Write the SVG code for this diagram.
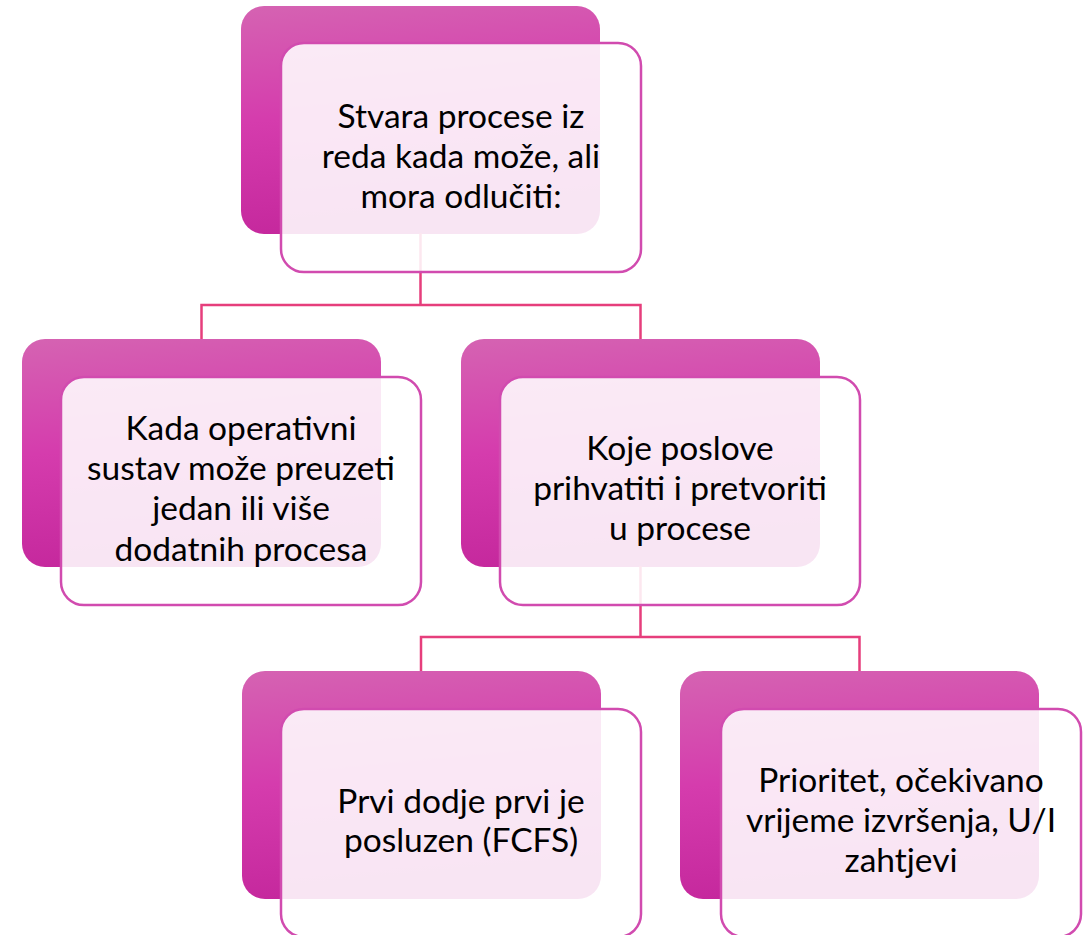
<svg xmlns="http://www.w3.org/2000/svg" width="1086" height="935" viewBox="0 0 1086 935">
<defs>
<linearGradient id="g" x1="0" y1="0" x2="0.15" y2="1">
<stop offset="0" stop-color="#D563B2"/>
<stop offset="0.5" stop-color="#D53CAD"/>
<stop offset="1" stop-color="#C5289D"/>
</linearGradient>
<style>
.back{fill:url(#g);}
.front{fill:#FFFFFF;fill-opacity:0.88;stroke:#D14BAF;stroke-width:2.5;}
.conn{fill:none;stroke:#E63E7C;stroke-width:2.5;}
text{font-family:Lato,"Liberation Sans",sans-serif;font-size:33.5px;fill:#000;text-anchor:middle;}
</style>
</defs>
<rect width="1086" height="935" fill="#FFFFFF"/>
<g id="backs">
<rect class="back" x="241" y="6" width="359" height="228" rx="23"/>
<rect class="back" x="22" y="339" width="359" height="228" rx="23"/>
<rect class="back" x="461" y="339" width="359" height="228" rx="23"/>
<rect class="back" x="242" y="671" width="359" height="228" rx="23"/>
<rect class="back" x="680" y="671" width="359" height="228" rx="23"/>
</g>
<g id="connectors">
<path class="conn" d="M420.5,233 V305 M201.5,339 V305 H640.5 V339"/>
<path class="conn" d="M640.5,566 V637 M421,671 V637 H859.5 V671"/>
</g>
<g id="node-top">
<rect class="front" x="281" y="43" width="360" height="229" rx="23"/>
<text x="461" y="128">Stvara procese iz</text>
<text x="461" y="168">reda kada može, ali</text>
<text x="461" y="208">mora odlučiti:</text>
</g>
<g id="node-left">
<rect class="front" x="61" y="377" width="360" height="228" rx="23"/>
<text x="241" y="440">Kada operativni</text>
<text x="241" y="480">sustav može preuzeti</text>
<text x="241" y="520">jedan ili više</text>
<text x="241" y="561">dodatnih procesa</text>
</g>
<g id="node-mid">
<rect class="front" x="500" y="377" width="360" height="228" rx="23"/>
<text x="680" y="460">Koje poslove</text>
<text x="680" y="500">prihvatiti i pretvoriti</text>
<text x="680" y="540">u procese</text>
</g>
<g id="node-bl">
<rect class="front" x="281" y="709" width="360" height="228" rx="23"/>
<text x="461" y="813">Prvi dodje prvi je</text>
<text x="461" y="852">posluzen (FCFS)</text>
</g>
<g id="node-br">
<rect class="front" x="721" y="709" width="360" height="228" rx="23"/>
<text x="901" y="792">Prioritet, očekivano</text>
<text x="901" y="832">vrijeme izvršenja, U/I</text>
<text x="901" y="872">zahtjevi</text>
</g>
</svg>
